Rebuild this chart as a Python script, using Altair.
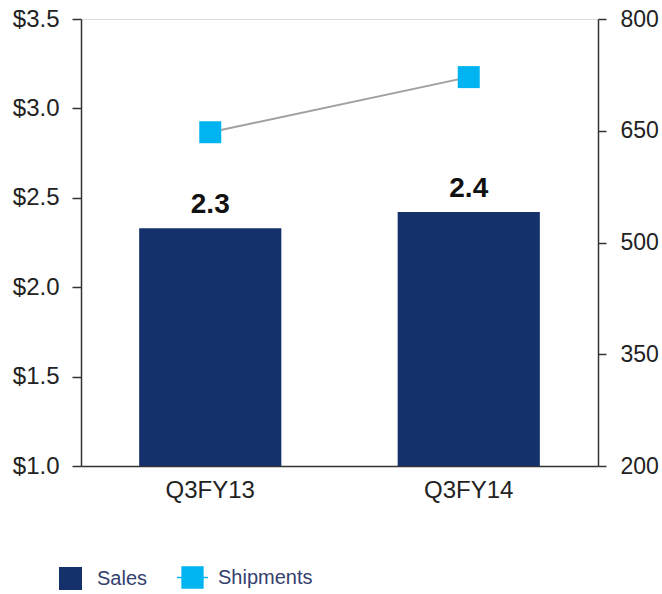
import altair as alt
import pandas as pd

quarters = ["Q3FY13", "Q3FY14"]
sales = [2.33, 2.42]
sales_labels = ["2.3", "2.4"]
shipments = [648, 722]
left_ticks = [1.0, 1.5, 2.0, 2.5, 3.0, 3.5]
right_ticks = [200, 350, 500, 650, 800]

df = pd.DataFrame({
    "quarter": quarters,
    "sales": sales,
    "label": sales_labels,
    "shipments": shipments,
    "s1": ["Sales"] * len(quarters),
    "s2": ["Shipments"] * len(quarters),
})

FONT = "Liberation Sans"
NAVY = "#15316b"
CYAN = "#00b4f1"
LEG_TXT = "#34406e"

x = alt.X(
    "quarter:N", sort=quarters, title=None,
    scale=alt.Scale(paddingInner=0.45, paddingOuter=0.225),
    axis=alt.Axis(labelAngle=0, labelFontSize=24, labelPadding=12, ticks=False,
                  domainColor="#333333", domainWidth=1.5, labelColor="#222222",
                  labelFont=FONT, grid=False),
)

yl_axis = alt.Axis(values=left_ticks, format="$.1f", title=None, grid=False,
                   labelFontSize=24, labelFont=FONT, labelColor="#222222",
                   labelPadding=13, tickSize=9, tickColor="#333333",
                   domainColor="#333333", domainWidth=1.5, tickWidth=1.5)
yl = alt.Y("sales:Q", scale=alt.Scale(domain=[1.0, 3.5], zero=False, nice=False), axis=yl_axis)

yr_axis = alt.Axis(values=right_ticks, orient="right", title=None, grid=False,
                   labelFontSize=23, labelFont=FONT, labelColor="#222222",
                   labelPadding=14, tickSize=8, tickColor="#333333",
                   domainColor="#333333", domainWidth=1.5, tickWidth=1.5)
yr = alt.Y("shipments:Q", scale=alt.Scale(domain=[200, 800], zero=False, nice=False), axis=yr_axis)

base = alt.Chart(df)

bars = base.mark_bar().encode(
    x=x, y=yl, y2=alt.datum(1.0),
    color=alt.Color("s1:N", scale=alt.Scale(domain=["Sales"], range=[NAVY]),
                    legend=alt.Legend(title=None, orient="none", legendX=-22, legendY=548,
                                      direction="horizontal", symbolType="square",
                                      symbolSize=529, symbolStrokeWidth=0,
                                      labelFontSize=20, labelFont=FONT, labelColor=LEG_TXT,
                                      labelOffset=15, padding=0)),
)

text = base.mark_text(dy=-15, baseline="alphabetic", fontSize=28, fontWeight="bold",
                      font=FONT, color="#111111").encode(x=x, y=yl, text="label:N")

line = base.mark_line(color="#a0a0a0", strokeWidth=2).encode(x=x, y=yr)

points = base.mark_point(shape="square", filled=True, size=484, opacity=1).encode(
    x=x, y=yr,
    color=alt.Color("s2:N", scale=alt.Scale(domain=["Shipments"], range=[CYAN]),
                    legend=alt.Legend(title=None, orient="none", legendX=96, legendY=543,
                                      direction="horizontal",
                                      symbolType="M-1,-0.05H1V0.05H-1Z M-0.72,-0.72H0.72V0.72H-0.72Z",
                                      symbolSize=961, symbolStrokeWidth=0,
                                      labelFontSize=20, labelFont=FONT, labelColor=LEG_TXT,
                                      labelOffset=10, padding=0)),
)

left = alt.layer(bars, text)
right = alt.layer(line, points)

chart = alt.layer(left, right).resolve_scale(
    y="independent", color="independent"
).properties(
    width=517, height=447,
    autosize=alt.AutoSizeParams(type="none"),
    padding={"left": 81, "top": 19, "right": 64, "bottom": 128},
).configure_view(stroke=None).configure(background="white")

chart.save("out.html", embed_options={"renderer": "svg", "actions": False})
